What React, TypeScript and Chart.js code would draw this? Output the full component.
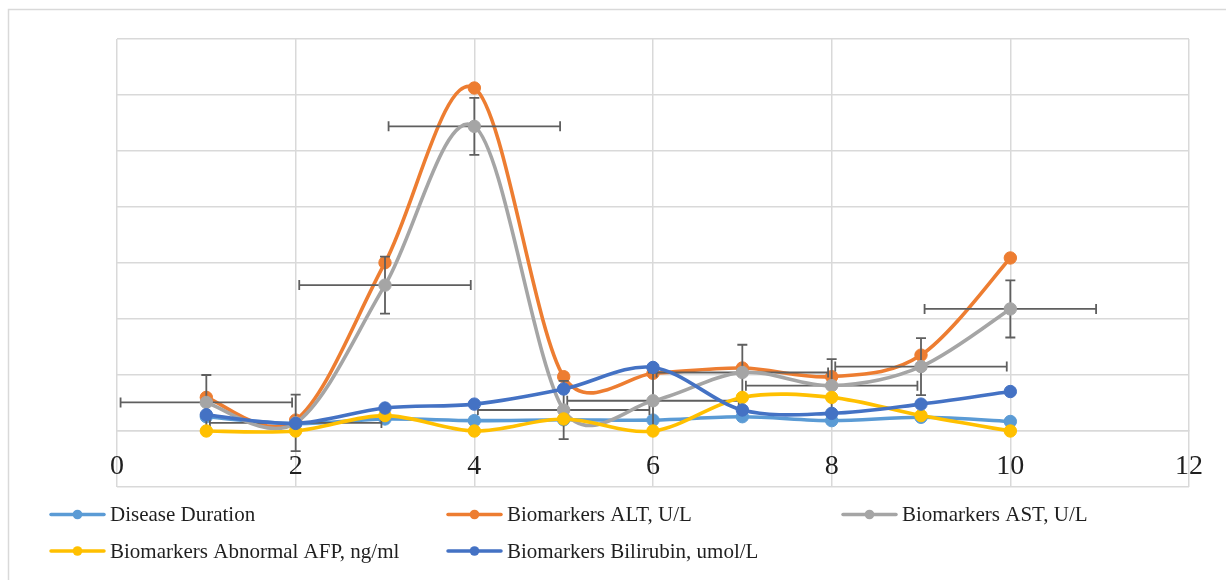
import React, { useEffect, useRef } from 'react';
import { Chart, registerables } from 'chart.js';

Chart.register(...registerables);

// ---------- data ----------
const xValues = [1, 2, 3, 4, 5, 6, 7, 8, 9, 10];
const diseaseDuration = [5.1, 2.6, 4.3, 3.7, 4.0, 3.9, 5.1, 3.7, 4.9, 3.4];
const altValues = [12.0, 3.9, 60.1, 122.5, 19.4, 20.6, 22.5, 19.4, 27.1, 61.8];
const astValues = [10.2, 2.9, 52.1, 108.8, 7.5, 10.8, 20.9, 16.2, 23.0, 43.6];
const afpValues = [0, 0, 5.5, 0, 4.3, 0, 12.0, 12.0, 5.5, 0];
const bilirubinValues = [5.8, 2.7, 8.2, 9.6, 15.0, 22.7, 7.5, 6.3, 9.6, 14.1];
const astErrorX = [0.96, 0.96, 0.96, 0.96, 0.96, 0.96, 0.96, 0.96, 0.96, 0.96];
const astErrorY = [9.8, 10.1, 10.2, 10.2, 10.4, 10.1, 9.9, 9.5, 10.2, 10.2];
const seriesNames = [
  'Disease Duration',
  'Biomarkers ALT, U/L',
  'Biomarkers AST, U/L',
  'Biomarkers Abnormal AFP, ng/ml',
  'Biomarkers Bilirubin, umol/L',
];
const seriesColors = ['#5B9BD5', '#ED7D31', '#A5A5A5', '#FFC000', '#4472C4'];
const xAxisMin = 0;
const xAxisMax = 12;
const xAxisStep = 2;
const yAxisMin = -20;
const yAxisMax = 140;
const yAxisStep = 20;

const FONT = "'Liberation Serif', 'Times New Roman', serif";
const GRID = '#D9D9D9';
const TEXT = '#1f1f1f';

// Excel-like smoothing of line segments (control points only; anchor points come from the scales)
function dist(a: any, b: any) {
  return Math.hypot(a.x - b.x, a.y - b.y);
}
const excelSmooth = {
  id: 'excelSmooth',
  beforeDatasetDraw(chart: any, args: any) {
    const line = args.meta.dataset;
    if (!line || typeof line.updateControlPoints !== 'function') return;
    line.updateControlPoints(chart.chartArea, 'x');
    const pts = line.points || [];
    const n = pts.length;
    for (let i = 0; i < n - 1; i++) {
      const p1 = pts[i];
      const p2 = pts[i + 1];
      const p0 = i > 0 ? pts[i - 1] : p1;
      const p3 = i + 2 < n ? pts[i + 2] : p2;
      const d02 = dist(p0, p2) || 1e-6;
      const d12 = dist(p1, p2);
      const d13 = dist(p1, p3) || 1e-6;
      let f0: number;
      let f3: number;
      if (d02 / 6 < d12 / 2 && d13 / 6 < d12 / 2) {
        f0 = 1 / 6;
        f3 = 1 / 6;
      } else if (d02 / 6 >= d12 / 2 && d13 / 6 >= d12 / 2) {
        f0 = d12 / 2 / d02;
        f3 = d12 / 2 / d13;
      } else if (d02 / 6 >= d12 / 2) {
        f0 = d12 / 2 / d02;
        f3 = (d12 / 2 / d13) * (d13 / d02);
      } else {
        f0 = (d12 / 2 / d02) * (d02 / d13);
        f3 = d12 / 2 / d13;
      }
      p1.cp2x = p1.x + (p2.x - p0.x) * f0;
      p1.cp2y = p1.y + (p2.y - p0.y) * f0;
      p2.cp1x = p2.x - (p3.x - p1.x) * f3;
      p2.cp1y = p2.y - (p3.y - p1.y) * f3;
    }
  },
};

// Error bars for the AST series, drawn through the chart scales
const errorBars = {
  id: 'errorBars',
  beforeDatasetDraw(chart: any, args: any) {
    if (args.index !== 2) return;
    const xs = chart.scales.x;
    const ys = chart.scales.y;
    const ctx = chart.ctx;
    ctx.save();
    ctx.strokeStyle = '#5f5f5f';
    ctx.lineWidth = 1.8;
    const cap = 5;
    for (let i = 0; i < xValues.length; i++) {
      const px = xs.getPixelForValue(xValues[i]);
      const py = ys.getPixelForValue(astValues[i]);
      const xl = xs.getPixelForValue(xValues[i] - astErrorX[i]);
      const xr = xs.getPixelForValue(xValues[i] + astErrorX[i]);
      const yt = ys.getPixelForValue(astValues[i] + astErrorY[i]);
      const yb = ys.getPixelForValue(astValues[i] - astErrorY[i]);
      ctx.beginPath();
      ctx.moveTo(xl, py);
      ctx.lineTo(xr, py);
      ctx.moveTo(xl, py - cap);
      ctx.lineTo(xl, py + cap);
      ctx.moveTo(xr, py - cap);
      ctx.lineTo(xr, py + cap);
      ctx.moveTo(px, yt);
      ctx.lineTo(px, yb);
      ctx.moveTo(px - cap, yt);
      ctx.lineTo(px + cap, yt);
      ctx.moveTo(px - cap, yb);
      ctx.lineTo(px + cap, yb);
      ctx.stroke();
    }
    ctx.restore();
  },
};

const background = {
  id: 'background',
  beforeDraw(chart: any) {
    const ctx = chart.ctx;
    ctx.save();
    ctx.fillStyle = '#ffffff';
    ctx.fillRect(0, 0, chart.width, chart.height);
    ctx.strokeStyle = GRID;
    ctx.lineWidth = 1.5;
    ctx.strokeRect(8.5, 9.5, chart.width + 20, chart.height + 20);
    ctx.restore();
  },
};

// Excel-style grid legend
const gridLegend = {
  id: 'gridLegend',
  afterDraw(chart: any) {
    const ctx = chart.ctx;
    const colX = [51, 448, 843];
    const rowY = [514.5, 551];
    ctx.save();
    ctx.font = `21px ${FONT}`;
    ctx.textBaseline = 'alphabetic';
    ctx.textAlign = 'left';
    chart.data.datasets.forEach((ds: any, i: number) => {
      const col = i % 3;
      const row = Math.floor(i / 3);
      const x0 = colX[col];
      const y = rowY[row];
      ctx.strokeStyle = ds.borderColor;
      ctx.lineWidth = 3.5;
      ctx.lineCap = 'round';
      ctx.beginPath();
      ctx.moveTo(x0, y);
      ctx.lineTo(x0 + 53, y);
      ctx.stroke();
      ctx.fillStyle = ds.borderColor;
      ctx.beginPath();
      ctx.arc(x0 + 26.5, y, 4.8, 0, Math.PI * 2);
      ctx.fill();
      ctx.fillStyle = TEXT;
      ctx.fillText(ds.label, x0 + 59, y + 6.5);
    });
    ctx.restore();
  },
};

const seriesValues = [diseaseDuration, altValues, astValues, afpValues, bilirubinValues];

export default function App() {
  const ref = useRef<HTMLCanvasElement>(null);

  useEffect(() => {
    if (!ref.current) return;
    const datasets = seriesValues.map((vals, i) => ({
      label: seriesNames[i],
      data: xValues.map((x, j) => ({ x, y: vals[j] })),
      borderColor: seriesColors[i],
      backgroundColor: seriesColors[i],
      pointBackgroundColor: seriesColors[i],
      pointBorderColor: seriesColors[i],
      pointBorderWidth: 1,
      pointRadius: 6.2,
      borderWidth: 3.6,
      borderCapStyle: 'round',
      borderJoinStyle: 'round',
      tension: 0.4,
      fill: false,
      order: seriesValues.length - i,
      clip: false,
    }));

    const chart = new Chart(ref.current, {
      type: 'line',
      data: { datasets },
      plugins: [background, excelSmooth, errorBars, gridLegend],
      options: {
        responsive: false,
        animation: false,
        devicePixelRatio: 1,
        layout: { padding: { left: 117, right: 37, top: 39, bottom: 93 } },
        plugins: {
          legend: { display: false },
          tooltip: { enabled: false },
          title: { display: false },
        },
        scales: {
          x: {
            type: 'linear',
            min: xAxisMin,
            max: xAxisMax,
            position: { y: 0 },
            ticks: {
              stepSize: xAxisStep,
              padding: 19,
              color: TEXT,
              font: { family: FONT, size: 28 },
              maxRotation: 0,
            },
            grid: { color: GRID, lineWidth: 1.5, drawTicks: false },
            border: { display: true, color: GRID, width: 1.5 },
          },
          y: {
            type: 'linear',
            min: yAxisMin,
            max: yAxisMax,
            ticks: { stepSize: yAxisStep, display: false },
            grid: { color: GRID, lineWidth: 1.5, drawTicks: false },
            border: { display: false },
          },
        },
      } as any,
    });
    return () => chart.destroy();
  }, []);

  return (
    <div style={{ position: 'fixed', left: 0, top: 0, width: 1226, height: 580, background: '#fff' }}>
      <canvas ref={ref} width={1226} height={580} style={{ display: 'block', width: 1226, height: 580 }} />
    </div>
  );
}
